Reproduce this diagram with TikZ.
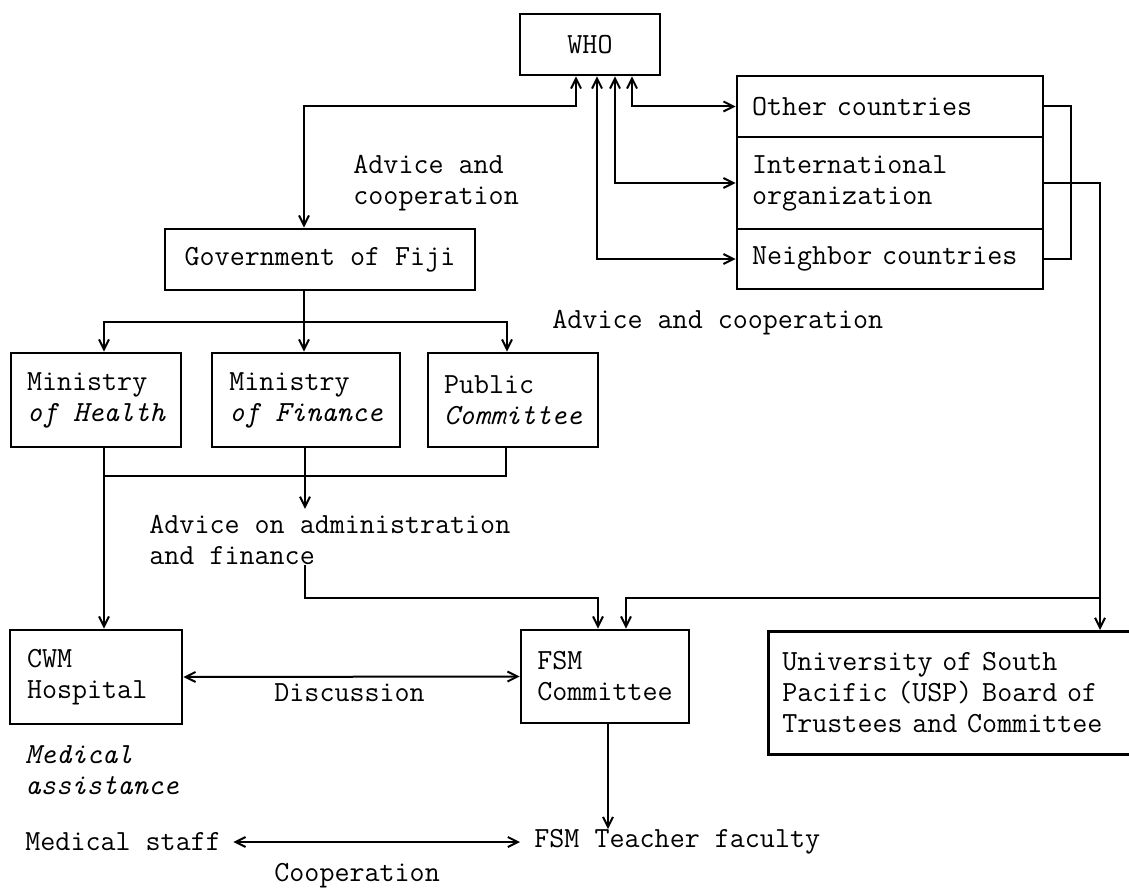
\documentclass[tikz,border=0pt]{standalone}
\usetikzlibrary{arrows.meta}
\newcommand\typefont{\fontsize{14.6}{15.5}\selectfont\ttfamily}
\begin{document}
\begin{tikzpicture}[x=0.5pt,y=-0.5pt,>={Straight Barb[length=5pt,width=5pt]},
  box/.style={draw,line width=1.3pt,font=\typefont,inner sep=0pt},
  lbl/.style={font=\typefont,align=left,inner sep=0pt,anchor=west},
  conn/.style={line width=1pt}]
\useasboundingbox (0,0) rectangle (1129,892);
% boxes
\node[box,minimum width=70pt,minimum height=30.5pt] (who) at (590,44.5) {WHO};
\node[box,text width=138pt,align=left,inner xsep=7.5pt,minimum height=30.5pt] (other) at (890,106.5) {Other countries};
\node[box,text width=138pt,align=left,inner xsep=7.5pt,minimum height=46pt] (intl) at (890,183) {International\\organization};
\node[box,text width=138pt,align=left,inner xsep=7.5pt,minimum height=30pt] (neigh) at (890,259) {Neighbor countries};
\node[box,minimum width=155pt,minimum height=30.5pt] (gov) at (320,259.5) {Government of Fiji};
\node[box,align=left,minimum width=85pt,minimum height=47pt] (health) at (96,400) {Ministry\\{\itshape of Health}};
\node[box,align=left,minimum width=94pt,minimum height=47pt] (finance) at (306,400) {Ministry\\{\itshape of Finance}};
\node[box,align=left,minimum width=85pt,minimum height=47pt] (public) at (513,400) {Public\\{\itshape Committee}};
\node[box,text width=69pt,align=left,inner xsep=8.5pt,minimum height=47pt] (cwm) at (96,677) {CWM\\Hospital};
\node[box,align=left,minimum width=84pt,minimum height=46.5pt] (fsm) at (605,676.5) {FSM\\Committee};
\node[box,text width=200pt,align=left,inner xsep=7pt,minimum height=61.5pt,anchor=north west] (usp) at (767,630) {University of South\\Pacific (USP) Board of\\Trustees and Committee};
% labels
\node[lbl] (advcoop) at (353,183.5) {Advice and\\cooperation};
\node[lbl] (advcoop2) at (552,323) {Advice and cooperation};
\node[lbl] (advfin) at (149,540) {Advice on administration\\and finance};
\node[lbl] (disc) at (274,693) {Discussion};
\node[lbl,font=\typefont\itshape] (medass) at (25,770) {Medical\\assistance};
\node[lbl] (staff) at (25,842) {Medical staff};
\node[lbl] (faculty) at (534,842) {FSM Teacher faculty};
\node[lbl] (coop) at (274,876) {Cooperation};
% WHO links
\draw[conn,<->] (gov.north -| 304,0) -- (304,106) -- (576,106) -- (who.south -| 576,0);
\draw[conn,<->] (who.south -| 632,0) |- (other.west);
\draw[conn,<->] (who.south -| 615,0) |- (intl.west);
\draw[conn,<->] (who.south -| 597,0) |- (neigh.west);
\draw[conn] (other.east) -- ++(27,0) |- (neigh.east);
\draw[conn,->] (intl.east) -| (usp.north -| 1100,0);
\coordinate (fork) at (1100,598);
\draw[conn,->] (fork) -| (fsm.north -| 626,0);
% government to ministries
\coordinate (split) at (304,322);
\draw[conn,->] (gov.south -| 304,0) -- (finance.north -| 304,0);
\draw[conn,->] (split) -| (health.north -| 104,0);
\draw[conn,->] (split) -| (public.north -| 507,0);
% ministries downwards
\coordinate (merge) at (104,476);
\draw[conn,->] (health.south -| 104,0) -- (cwm.north -| 104,0);
\draw[conn] (public.south -| 506,0) |- (merge);
\draw[conn,->,shorten >=3pt] (finance.south -| 305,0) -- (advfin.north -| 305,0);
\draw[conn,->] (advfin.south -| 305,0) -- (305,598) -| (fsm.north -| 598,0);
% bottom
\draw[conn,<->] (cwm.east) -- (fsm.west);
\draw[conn,->] (fsm.south -| 608,0) -- (faculty.north -| 608,0);
\draw[conn,<->,shorten <=6pt,shorten >=7pt] (staff.east) -- (faculty.west);
\end{tikzpicture}
\end{document}
